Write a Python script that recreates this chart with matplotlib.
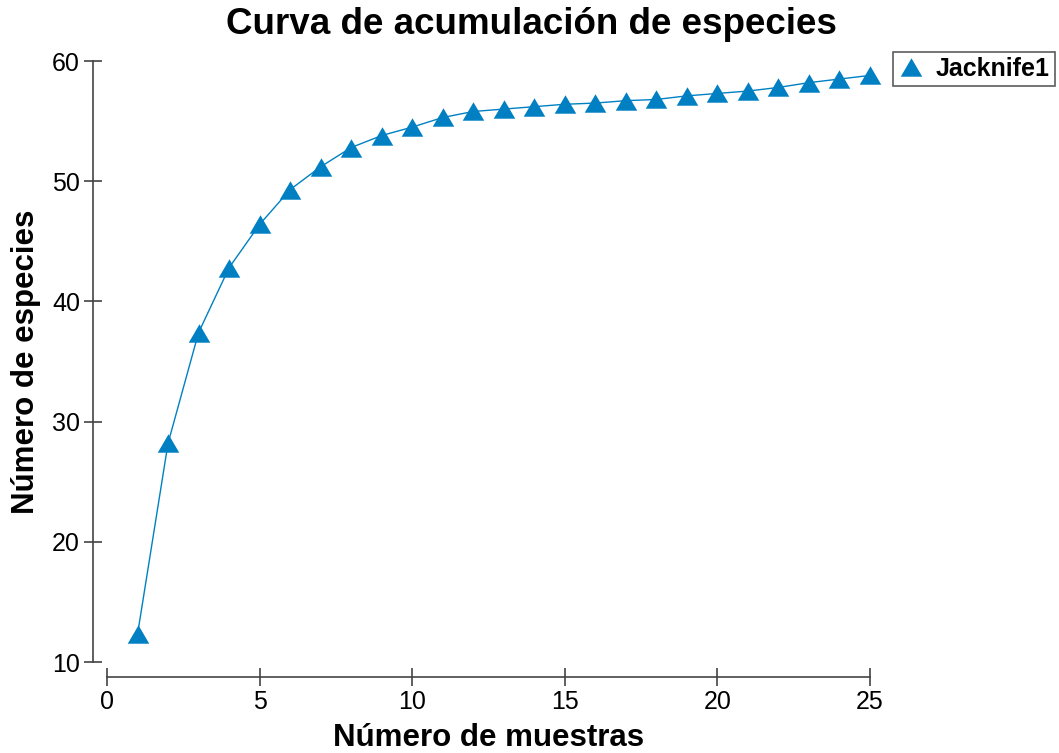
import matplotlib
matplotlib.use("Agg")
import matplotlib.pyplot as plt

muestras = list(range(1, 26))
jacknife1 = [12.3, 28.2, 37.4, 42.8, 46.4, 49.3, 51.2, 52.8, 53.8, 54.5,
             55.3, 55.8, 56.0, 56.2, 56.4, 56.5, 56.7, 56.8, 57.1, 57.3,
             57.5, 57.8, 58.2, 58.5, 58.8]
xticks = [0, 5, 10, 15, 20, 25]
yticks = [10, 20, 30, 40, 50, 60]

plt.rcParams['font.family'] = ['Liberation Sans', 'DejaVu Sans']
W, H = 1059, 753
fig = plt.figure(figsize=(W / 100, H / 100), dpi=100)
ax = fig.add_axes([107 / W, 1 - 662 / H, (870 - 107) / W, (662 - 61) / H])

color = '#0080C2'
tri = [(-1.0, -0.857), (1.0, -0.857), (0, 0.857), (-1.0, -0.857)]
ax.plot(muestras, jacknife1, color=color, lw=1.0, marker=tri, markersize=15.5,
        markeredgewidth=0, markerfacecolor=color, clip_on=False,
        label='Jacknife1')

ax.set_xlim(0, 25)
ax.set_ylim(10, 60)
ax.set_xticks(xticks)
ax.set_yticks(yticks)

for s in ['top', 'right']:
    ax.spines[s].set_visible(False)
ax.spines['left'].set_position(('outward', 10))
ax.spines['bottom'].set_position(('outward', 11))
for s in ['left', 'bottom']:
    ax.spines[s].set_color('#444444')
    ax.spines[s].set_linewidth(1.2)
ax.tick_params(direction='inout', length=13, width=1.2, color='#444444',
               labelsize=18, labelcolor='black', pad=3)

ax.set_xlabel('Número de muestras', fontsize=22.5, fontweight='bold', labelpad=6)
ax.set_ylabel('Número de especies', fontsize=22.5, fontweight='bold', labelpad=8)
fig.text(531 / W, 1 - 25 / H, 'Curva de acumulación de especies', fontsize=26.5,
         fontweight='bold', ha='center', va='center')

leg = ax.legend(loc='upper left', bbox_to_anchor=(893 / W, 1 - 52 / H),
                bbox_transform=fig.transFigure, frameon=True, fancybox=False,
                prop={'weight': 'bold', 'size': 18}, handlelength=1.0,
                handletextpad=0.5, borderpad=0.2, borderaxespad=0)
leg.get_frame().set_edgecolor('#333333')
leg.get_frame().set_linewidth(1.2)
for h in leg.get_lines():
    h.set_linestyle('none')

fig.savefig('out.png', dpi=100)
